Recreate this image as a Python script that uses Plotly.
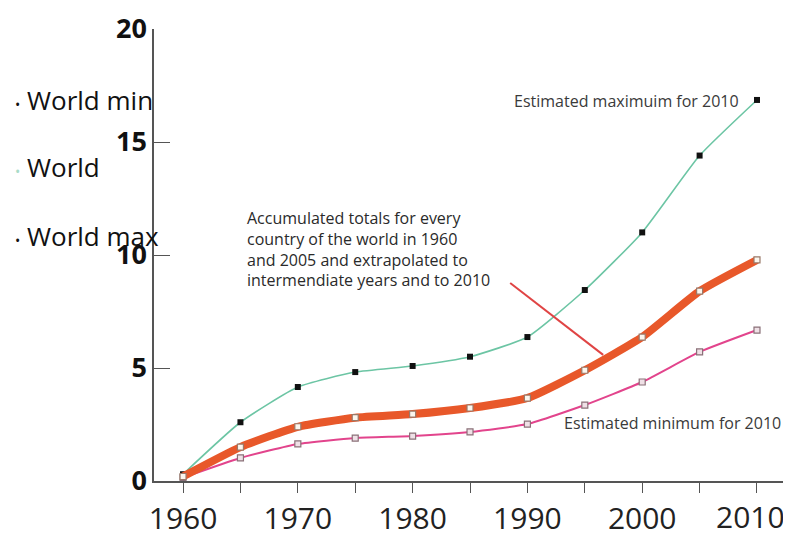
import plotly.graph_objects as go

years = [1960, 1965, 1970, 1975, 1980, 1985, 1990, 1995, 2000, 2005, 2010]
world_max = [0.3, 2.6, 4.16, 4.82, 5.09, 5.5, 6.37, 8.45, 11.0, 14.4, 16.86]
world_mid = [0.2, 1.5, 2.4, 2.8, 2.96, 3.23, 3.67, 4.9, 6.37, 8.4, 9.78]
world_min = [0.15, 1.02, 1.64, 1.9, 1.99, 2.17, 2.52, 3.36, 4.38, 5.71, 6.68]

x_tickvals = [1960, 1965, 1970, 1975, 1980, 1985, 1990, 1995, 2000, 2005, 2010]
x_ticktext = ["1960", "", "1970", "", "1980", "", "1990", "", "2000", "", ""]
last_tick_label = "2010"  # drawn as annotation so it is not clipped at the page edge
y_tickvals = [0, 5, 10, 15, 20]

FONT = "Open Sans"

fig = go.Figure()
fig.add_trace(go.Scatter(
    x=years, y=world_max, mode="lines+markers", name="World max",
    line=dict(color="#6cc5a4", width=1.6, shape="spline", smoothing=0.5),
    marker=dict(symbol="square", size=6, color="#111111"),
    showlegend=False))
fig.add_trace(go.Scatter(
    x=years, y=world_min, mode="lines+markers", name="World min",
    line=dict(color="#e2448c", width=2, shape="spline", smoothing=0.5),
    marker=dict(symbol="square", size=6, color="#efe0e6",
                line=dict(color="#8a7078", width=1.2)),
    showlegend=False))
fig.add_trace(go.Scatter(
    x=years, y=world_mid, mode="lines+markers", name="World",
    line=dict(color="#e8582a", width=8, shape="spline", smoothing=0.5),
    marker=dict(symbol="square", size=6, color="#fbf6ee",
                line=dict(color="#9a7a6a", width=1.2)),
    showlegend=False))

# pointer line from the text note to the middle curve
fig.add_shape(type="line", xref="x", yref="y",
              x0=1988.5, y0=8.76, x1=1996.6, y1=5.58,
              line=dict(color="#e04444", width=2), layer="above")

ann_font = dict(family=FONT, size=16, color="#3a3a3a")
fig.add_annotation(x=2008.6, y=16.8, xref="x", yref="y", text="Estimated maximuim for 2010",
                   showarrow=False, xanchor="right", yanchor="middle", font=ann_font)
fig.add_annotation(x=1993.0, y=2.55, xref="x", yref="y", text="Estimated minimum for 2010",
                   showarrow=False, xanchor="left", yanchor="middle", font=ann_font)
fig.add_annotation(x=1965.4, y=12.22, xref="x", yref="y",
                   text="Accumulated totals for every<br>country of the world in 1960<br>and 2005 and extrapolated to<br>intermendiate years and to 2010",
                   showarrow=False, xanchor="left", yanchor="top", align="left",
                   font=dict(family=FONT, size=16, color="#2a2a2a"))
fig.add_annotation(x=2009.4, y=0, xref="x", yref="paper", text=last_tick_label,
                   showarrow=False, xanchor="center", yanchor="middle", yshift=-35,
                   font=dict(family=FONT, size=30, color="#222222"))

# page body adds an 8px offset; layout below is compensated for it
OFF = 8
L, T = 154 - OFF, 29 - OFF
leg_font = dict(family=FONT, size=26, color="#111111")
for label, dot, yp in [("World min", "#111111", 100), ("World", "#a8dcc8", 167), ("World max", "#111111", 236)]:
    fig.add_annotation(x=(13 - OFF - L) / 631, y=1 - (yp - OFF - T) / 452, xref="paper", yref="paper",
                       xanchor="left", yanchor="middle", showarrow=False,
                       text=f"<span style='color:{dot};font-size:14px'>&#8226;</span> {label}",
                       font=leg_font)

fig.update_layout(
    width=791 - OFF, height=558 - OFF,
    margin=dict(l=L, r=6, t=T, b=77),
    paper_bgcolor="white", plot_bgcolor="white",
    showlegend=False,
    font=dict(family=FONT),
)
fig.update_xaxes(range=[1957.47, 2012.44], tickvals=x_tickvals, ticktext=x_ticktext,
                 automargin=False, ticklabeloverflow="allow",
                 showgrid=False, zeroline=False, showline=True, linecolor="#555555", linewidth=1.5,
                 ticks="outside", ticklen=10, tickcolor="#555555", tickwidth=1.2,
                 tickfont=dict(family=FONT, size=30, color="#222222"))
fig.update_yaxes(range=[0, 20], tickvals=y_tickvals, automargin=False,
                 showgrid=False, zeroline=False, showline=True, linecolor="#555555", linewidth=1.5,
                 ticks="inside", ticklen=16, tickcolor="#555555", tickwidth=1.2,
                 tickfont=dict(family=FONT, size=27, color="#111111", weight="bold"))

fig.write_html("out.html")
